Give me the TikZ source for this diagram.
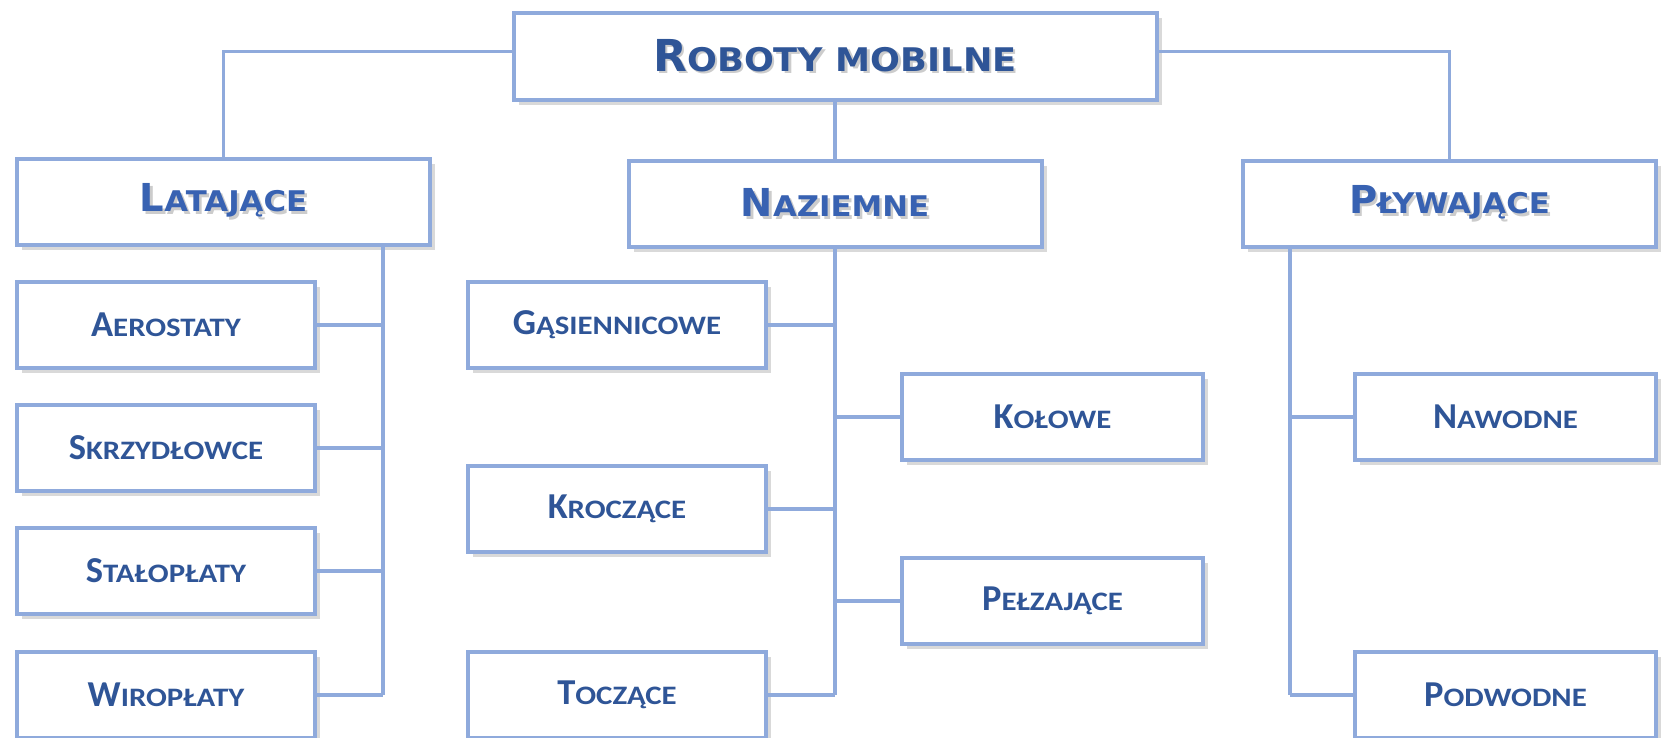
\documentclass[tikz,border=0pt]{standalone}
\usepackage{fontspec}
\usepackage{graphicx}
\usetikzlibrary{shadows}
\newfontfamily\headfont{DejaVu Sans}
\newfontfamily\leaffont{Carlito}
\definecolor{edge}{HTML}{8FAADC}
\definecolor{inkdark}{HTML}{2F5597}
\definecolor{inkmid}{HTML}{3862B2}
% faked small capitals: lower-case part set as scaled capitals
\newcommand\low[1]{\scalebox{0.8}[0.74]{#1}}
\newcommand\lowleaf[1]{\scalebox{0.845}[0.73]{#1}}
% soft grey copy of a label behind the label itself
\newcommand\shtext[1]{\makebox[0pt][l]{\hspace{2.5pt}\raisebox{-2.5pt}{\textcolor{black!20}{#1}}}#1}
\tikzset{
  box/.style={draw=edge, line width=4pt, fill=white, inner sep=0pt,
    drop shadow={shadow xshift=5pt, shadow yshift=-5pt, opacity=0.15, fill=black}},
  rootbox/.style={box, minimum width=643pt, minimum height=87pt,
    font=\headfont\bfseries\fontsize{44}{44}\selectfont, text=inkdark},
  groupbox/.style={box, minimum width=413pt, minimum height=86pt,
    font=\headfont\bfseries\fontsize{38.5}{38.5}\selectfont, text=inkmid},
  leafbox/.style={box, minimum width=298pt, minimum height=86pt,
    font=\leaffont\bfseries\fontsize{36.5}{36.5}\selectfont, text=inkdark},
  link/.style={draw=edge, line width=3.5pt}
}
\begin{document}
\begin{tikzpicture}[x=1pt, y=-1pt]
\useasboundingbox (0,0) rectangle (1663,737);
\clip (0,0) rectangle (1663,737);

% root
\node[rootbox] (root) at (835,56.5) {\shtext{R\low{OBOTY MOBILNE}}};

% groups
\node[groupbox] (lat) at (223.5,202) {\shtext{L\low{ATAJĄCE}}};
\node[groupbox] (naz) at (835,204) {\shtext{N\low{AZIEMNE}}};
\node[groupbox] (ply) at (1449.5,204) {\shtext{P\low{ŁYWAJĄCE}}};

% flying
\node[leafbox] (aero) at (166,325) {A\lowleaf{EROSTATY}};
\node[leafbox] (skrz) at (166,448) {S\lowleaf{KRZYDŁOWCE}};
\node[leafbox] (stal) at (166,571) {S\lowleaf{TAŁOPŁATY}};
\node[leafbox] (wiro) at (166,695) {W\lowleaf{IROPŁATY}};

% ground
\node[leafbox] (gas) at (617,325) {G\lowleaf{ĄSIENNICOWE}};
\node[leafbox] (krocz) at (617,509) {K\lowleaf{ROCZĄCE}};
\node[leafbox] (toc) at (617,695) {T\lowleaf{OCZĄCE}};
\node[leafbox, minimum width=301pt] (kol) at (1052.5,417) {K\lowleaf{OŁOWE}};
\node[leafbox, minimum width=301pt] (pelz) at (1052.5,601) {P\lowleaf{EŁZAJĄCE}};

% water
\node[leafbox, minimum width=301pt] (naw) at (1505.5,417) {N\lowleaf{AWODNE}};
\node[leafbox, minimum width=301pt] (podw) at (1505.5,695) {P\lowleaf{ODWODNE}};

% bus positions
\coordinate (latx) at (383,0);
\coordinate (plyx) at (1290,0);

% root to groups
\draw[link] ([yshift=5pt]root.west) -| (lat.north);
\draw[link] ([yshift=5pt]root.east) -| (ply.north);
\draw[link] (root.south) -- (naz.north);

% flying bus
\draw[link] (lat.south -| latx) -- (latx |- wiro.east);
\draw[link] (aero.east) -- (aero.east -| latx);
\draw[link] (skrz.east) -- (skrz.east -| latx);
\draw[link] (stal.east) -- (stal.east -| latx);
\draw[link] (wiro.east) -- (wiro.east -| latx);

% ground bus
\draw[link] (naz.south) -- (naz.south |- toc.east);
\draw[link] (gas.east) -- (gas.east -| naz.south);
\draw[link] (krocz.east) -- (krocz.east -| naz.south);
\draw[link] (toc.east) -- (toc.east -| naz.south);
\draw[link] (kol.west) -- (kol.west -| naz.south);
\draw[link] (pelz.west) -- (pelz.west -| naz.south);

% water bus
\draw[link] (ply.south -| plyx) -- (plyx |- podw.west);
\draw[link] (naw.west) -- (naw.west -| plyx);
\draw[link] (podw.west) -- (podw.west -| plyx);
\end{tikzpicture}
\end{document}
